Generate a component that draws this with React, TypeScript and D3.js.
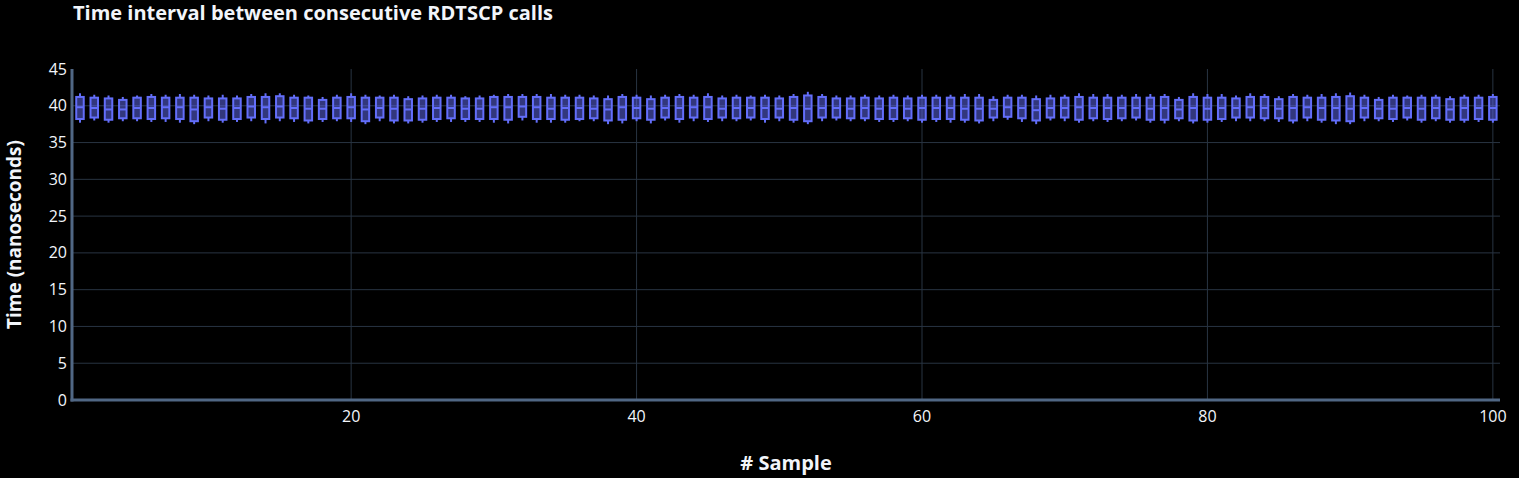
import React, { useEffect, useRef } from "react";
import * as d3 from "d3";

// Per-sample box statistics (nanoseconds)
const upperFence = [
    41.7, 41.5, 41.4, 41.2, 41.4, 41.6, 41.5, 41.6, 41.5, 41.4,
    41.5, 41.4, 41.6, 41.7, 41.7, 41.5, 41.4, 41.2, 41.5, 41.7,
    41.5, 41.4, 41.5, 41.3, 41.4, 41.5, 41.5, 41.3, 41.4, 41.5,
    41.6, 41.6, 41.6, 41.6, 41.5, 41.5, 41.4, 41.4, 41.6, 41.5,
    41.4, 41.5, 41.6, 41.5, 41.7, 41.4, 41.5, 41.4, 41.5, 41.4,
    41.6, 41.9, 41.6, 41.4, 41.4, 41.5, 41.4, 41.5, 41.4, 41.5,
    41.5, 41.5, 41.6, 41.6, 41.3, 41.5, 41.5, 41.4, 41.5, 41.5,
    41.7, 41.6, 41.6, 41.5, 41.6, 41.6, 41.6, 41.2, 41.7, 41.6,
    41.6, 41.4, 41.7, 41.6, 41.3, 41.6, 41.5, 41.6, 41.7, 41.8,
    41.5, 41.2, 41.5, 41.4, 41.5, 41.5, 41.3, 41.5, 41.5, 41.6,
];
const q3 = [
    41.2, 41.1, 41.0, 40.8, 41.1, 41.2, 41.1, 41.1, 41.1, 41.0,
    41.0, 41.0, 41.2, 41.2, 41.3, 41.1, 41.1, 40.8, 41.1, 41.2,
    41.1, 41.1, 41.1, 40.9, 41.0, 41.1, 41.1, 41.0, 41.0, 41.2,
    41.2, 41.2, 41.2, 41.1, 41.1, 41.1, 41.0, 40.9, 41.2, 41.1,
    40.9, 41.1, 41.2, 41.1, 41.2, 41.0, 41.1, 41.1, 41.1, 41.0,
    41.2, 41.4, 41.2, 41.0, 41.0, 41.1, 41.0, 41.1, 41.0, 41.1,
    41.1, 41.1, 41.1, 41.1, 40.8, 41.1, 41.1, 40.9, 41.0, 41.1,
    41.2, 41.1, 41.1, 41.1, 41.1, 41.1, 41.2, 40.8, 41.2, 41.1,
    41.1, 41.0, 41.2, 41.2, 40.9, 41.2, 41.1, 41.1, 41.2, 41.3,
    41.1, 40.8, 41.1, 41.1, 41.1, 41.1, 40.9, 41.1, 41.1, 41.2,
];
const median = [
    39.8, 39.7, 39.5, 39.5, 39.7, 39.7, 39.8, 39.8, 39.5, 39.8,
    39.6, 39.7, 39.9, 39.8, 39.9, 39.7, 39.6, 39.6, 39.7, 39.8,
    39.5, 39.7, 39.6, 39.5, 39.6, 39.7, 39.7, 39.6, 39.6, 39.8,
    39.8, 39.9, 39.8, 39.6, 39.7, 39.7, 39.6, 39.5, 39.8, 39.7,
    39.6, 39.7, 39.7, 39.8, 39.8, 39.6, 39.7, 39.7, 39.7, 39.6,
    39.7, 39.6, 39.7, 39.7, 39.6, 39.7, 39.6, 39.7, 39.6, 39.7,
    39.7, 39.7, 39.6, 39.6, 39.6, 39.8, 39.7, 39.4, 39.7, 39.7,
    39.8, 39.7, 39.7, 39.7, 39.7, 39.6, 39.7, 39.5, 39.7, 39.6,
    39.7, 39.7, 39.8, 39.7, 39.6, 39.7, 39.8, 39.7, 39.7, 39.6,
    39.7, 39.6, 39.6, 39.7, 39.6, 39.7, 39.5, 39.7, 39.7, 39.7,
];
const q1 = [
    38.2, 38.4, 38.1, 38.3, 38.3, 38.2, 38.3, 38.2, 37.9, 38.4,
    38.1, 38.2, 38.4, 38.2, 38.4, 38.3, 38.0, 38.2, 38.3, 38.3,
    37.9, 38.4, 38.0, 38.0, 38.1, 38.2, 38.3, 38.2, 38.2, 38.2,
    38.1, 38.5, 38.2, 38.2, 38.1, 38.2, 38.3, 38.0, 38.1, 38.3,
    38.1, 38.4, 38.2, 38.4, 38.2, 38.4, 38.3, 38.4, 38.2, 38.4,
    38.1, 37.9, 38.4, 38.4, 38.3, 38.3, 38.2, 38.2, 38.3, 38.1,
    38.2, 38.2, 38.1, 38.0, 38.4, 38.5, 38.3, 38.0, 38.4, 38.4,
    38.1, 38.3, 38.2, 38.3, 38.4, 38.1, 38.1, 38.3, 38.0, 38.1,
    38.2, 38.4, 38.4, 38.3, 38.3, 38.0, 38.4, 38.1, 38.0, 37.9,
    38.4, 38.3, 38.2, 38.4, 38.1, 38.3, 38.1, 38.1, 38.2, 38.1,
];
const lowerFence = [
    37.7, 38.0, 37.7, 37.9, 37.9, 37.8, 37.8, 37.7, 37.5, 37.9,
    37.7, 37.8, 37.9, 37.6, 37.9, 37.8, 37.6, 37.8, 37.9, 37.8,
    37.5, 37.9, 37.6, 37.6, 37.7, 37.8, 37.8, 37.8, 37.8, 37.7,
    37.6, 38.0, 37.7, 37.7, 37.7, 37.9, 37.9, 37.5, 37.6, 37.9,
    37.6, 38.0, 37.7, 37.9, 37.8, 37.9, 37.9, 38.0, 37.7, 37.9,
    37.7, 37.5, 37.9, 38.0, 37.9, 37.9, 37.8, 37.8, 37.9, 37.7,
    37.8, 37.7, 37.7, 37.6, 37.9, 38.1, 37.8, 37.5, 38.0, 37.9,
    37.7, 37.9, 37.8, 37.9, 38.0, 37.7, 37.6, 37.9, 37.6, 37.7,
    37.8, 37.9, 37.9, 37.9, 37.8, 37.6, 37.9, 37.7, 37.5, 37.5,
    37.9, 37.9, 37.8, 38.0, 37.7, 37.9, 37.7, 37.7, 37.8, 37.7,
];
const samples = d3.range(1, upperFence.length + 1);

const xTicks = [20, 40, 60, 80, 100];
const yTicks = [0, 5, 10, 15, 20, 25, 30, 35, 40, 45];

const TITLE = "Time interval between consecutive RDTSCP calls";
const X_TITLE = "# Sample";
const Y_TITLE = "Time (nanoseconds)";

const W = 1519, H = 478;
const FONT = "'Open Sans', 'Noto Sans', sans-serif";
const BOX = "#636efa";
const GRID = "#283442";
const AXIS = "#506784";
const TEXT = "#f2f5fa";

const BoxChart = () => {
    const svgRef = useRef<SVGSVGElement | null>(null);

    useEffect(() => {
        if (!svgRef.current) return;
        const svg = d3.select(svgRef.current);
        svg.selectAll("*").remove();

        const margin = { top: 69, right: 19, bottom: 78, left: 72 };
        const iw = W - margin.left - margin.right;
        const ih = H - margin.top - margin.bottom;

        svg.append("rect").attr("width", W).attr("height", H).attr("fill", "#000");

        const x = d3.scaleLinear().domain([0.44, 100.5]).range([0, iw]);
        const y = d3.scaleLinear().domain([0, 45]).range([ih, 0]);

        const g = svg.append("g").attr("transform", `translate(${margin.left},${margin.top})`);

        // ── Grid ──────────────────────────────────────────────────────────
        yTicks.filter(t => t > 0 && t < 45).forEach(t => {
            g.append("line")
                .attr("x1", 0).attr("x2", iw)
                .attr("y1", y(t)).attr("y2", y(t))
                .attr("stroke", GRID).attr("stroke-width", 1);
        });
        xTicks.forEach(t => {
            g.append("line")
                .attr("x1", x(t)).attr("x2", x(t))
                .attr("y1", 0).attr("y2", ih)
                .attr("stroke", GRID).attr("stroke-width", 1);
        });

        // ── Boxes ─────────────────────────────────────────────────────────
        const bw = 7.5;
        samples.forEach((s, i) => {
            const cx = x(s);
            g.append("line")
                .attr("x1", cx).attr("x2", cx)
                .attr("y1", y(upperFence[i])).attr("y2", y(q3[i]))
                .attr("stroke", BOX).attr("stroke-width", 2);
            g.append("line")
                .attr("x1", cx).attr("x2", cx)
                .attr("y1", y(q1[i])).attr("y2", y(lowerFence[i]))
                .attr("stroke", BOX).attr("stroke-width", 2);
            g.append("rect")
                .attr("x", cx - bw / 2)
                .attr("y", y(q3[i]))
                .attr("width", bw)
                .attr("height", y(q1[i]) - y(q3[i]))
                .attr("fill", BOX).attr("fill-opacity", 0.5)
                .attr("stroke", BOX).attr("stroke-width", 2);
            g.append("line")
                .attr("x1", cx - bw / 2).attr("x2", cx + bw / 2)
                .attr("y1", y(median[i])).attr("y2", y(median[i]))
                .attr("stroke", BOX).attr("stroke-width", 2);
        });

        // ── Axis lines ────────────────────────────────────────────────────
        g.append("line")
            .attr("x1", 0).attr("x2", 0).attr("y1", 0).attr("y2", ih + 1.5)
            .attr("stroke", AXIS).attr("stroke-width", 3);
        g.append("line")
            .attr("x1", -1.5).attr("x2", iw).attr("y1", ih).attr("y2", ih)
            .attr("stroke", AXIS).attr("stroke-width", 3);

        // ── Tick labels ───────────────────────────────────────────────────
        yTicks.forEach(t => {
            g.append("text")
                .attr("x", -5).attr("y", y(t)).attr("dy", "0.35em")
                .attr("text-anchor", "end")
                .attr("font-size", "16px").attr("font-family", FONT)
                .attr("fill", TEXT)
                .text(t);
        });
        xTicks.forEach(t => {
            g.append("text")
                .attr("x", x(t)).attr("y", ih + 22)
                .attr("text-anchor", "middle")
                .attr("font-size", "16px").attr("font-family", FONT)
                .attr("fill", TEXT)
                .text(t);
        });

        // ── Titles ────────────────────────────────────────────────────────
        svg.append("text")
            .attr("x", 73).attr("y", 20)
            .attr("font-size", "20px").attr("font-weight", "bold").attr("font-family", FONT)
            .attr("fill", TEXT)
            .text(TITLE);
        svg.append("text")
            .attr("x", margin.left + iw / 2).attr("y", 470)
            .attr("text-anchor", "middle")
            .attr("font-size", "20px").attr("font-weight", "bold").attr("font-family", FONT)
            .attr("fill", TEXT)
            .text(X_TITLE);
        svg.append("text")
            .attr("transform", `translate(21,${margin.top + ih / 2}) rotate(-90)`)
            .attr("text-anchor", "middle")
            .attr("font-size", "19px").attr("font-weight", "bold").attr("font-family", FONT)
            .attr("fill", TEXT)
            .text(Y_TITLE);
    }, []);

    return (
        <svg
            ref={svgRef}
            width={W}
            height={H}
            style={{ position: "absolute", left: 0, top: 0, display: "block" }}
        />
    );
};

export default function App() {
    return <BoxChart />;
}
